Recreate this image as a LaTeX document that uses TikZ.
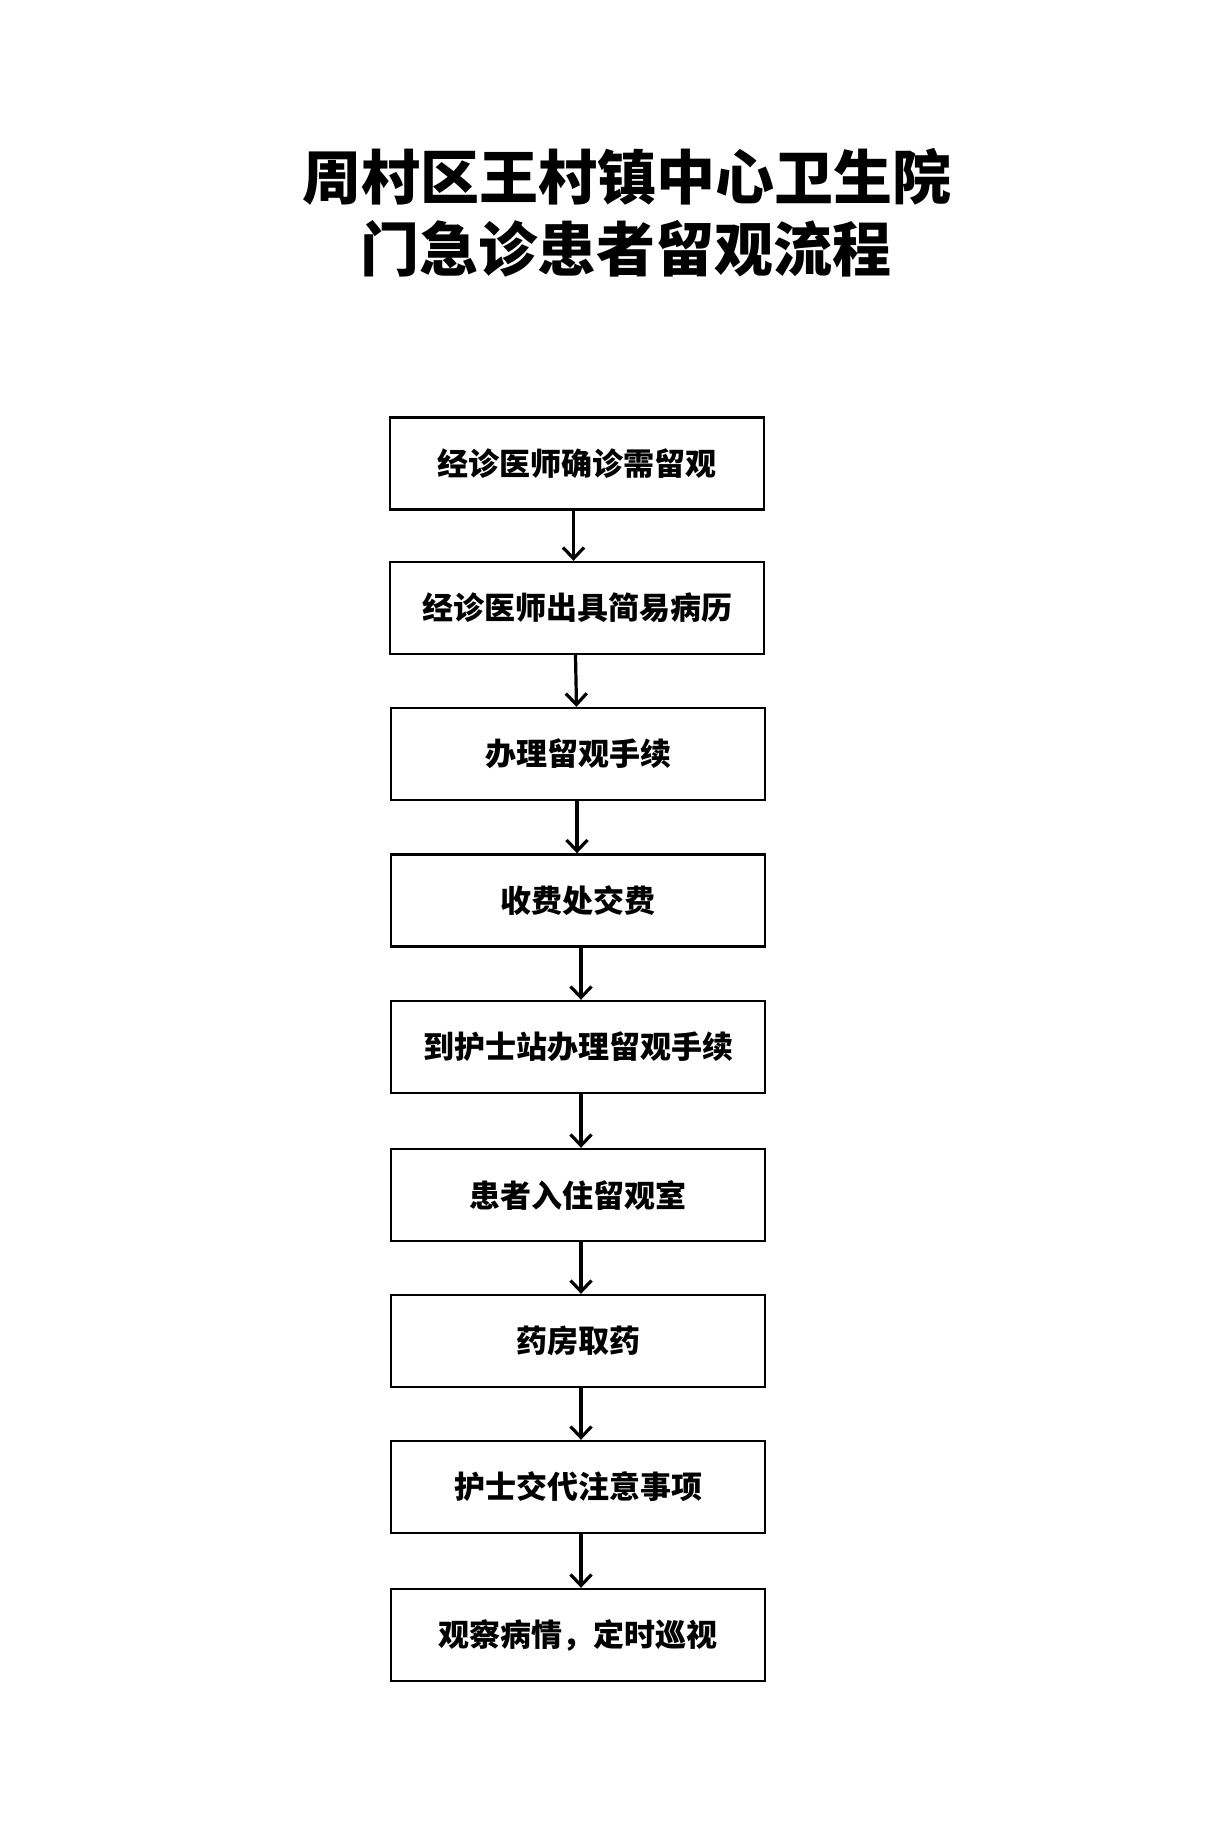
\documentclass[tikz,border=0pt]{standalone}
\usepackage{fontspec}
\newfontfamily\cjk{Noto Sans CJK SC}
\usetikzlibrary{arrows.meta}
\tikzset{
  stepbox/.style={draw=black,line width=2.4pt,minimum width=374pt,minimum height=92pt,inner sep=0pt,font=\cjk\bfseries\fontsize{31}{36}\selectfont},
  titletext/.style={inner sep=0pt,font=\cjk\bfseries\fontsize{59}{66}\selectfont},
  flowarrow/.style={draw=black,line width=3.2pt,-{Straight Barb[length=11pt,width=21pt,line width=3.2pt]}}
}
\begin{document}
\begin{tikzpicture}[x=1pt,y=-1pt]
\useasboundingbox[fill=white] (0,0) rectangle (1213,1845);
\node[titletext] (t1) at (627,177) {周村区王村镇中心卫生院};
\node[titletext] (t2) at (626,249) {门急诊患者留观流程};
\node[stepbox] (b1) at (577,463.5) {经诊医师确诊需留观};
\node[stepbox] (b2) at (577,608) {经诊医师出具简易病历};
\node[stepbox] (b3) at (578,754) {办理留观手续};
\node[stepbox] (b4) at (578,900.5) {收费处交费};
\node[stepbox] (b5) at (578,1047) {到护士站办理留观手续};
\node[stepbox] (b6) at (578,1195) {患者入住留观室};
\node[stepbox] (b7) at (578,1341) {药房取药};
\node[stepbox] (b8) at (578,1487) {护士交代注意事项};
\node[stepbox] (b9) at (578,1635) {观察病情，定时巡视};
\draw[flowarrow] ([xshift=-3.5pt]b1.south) -- ([xshift=-3.5pt]b2.north);
\draw[flowarrow] ([xshift=-1.5pt]b2.south) -- ([xshift=-1.5pt]b3.north);
\draw[flowarrow] ([xshift=-1pt]b3.south) -- ([xshift=-1pt]b4.north);
\draw[flowarrow] ([xshift=3pt]b4.south) -- ([xshift=3pt]b5.north);
\draw[flowarrow] ([xshift=3pt]b5.south) -- ([xshift=3pt]b6.north);
\draw[flowarrow] ([xshift=3pt]b6.south) -- ([xshift=3pt]b7.north);
\draw[flowarrow] ([xshift=3pt]b7.south) -- ([xshift=3pt]b8.north);
\draw[flowarrow] ([xshift=3pt]b8.south) -- ([xshift=3pt]b9.north);
\end{tikzpicture}
\end{document}
